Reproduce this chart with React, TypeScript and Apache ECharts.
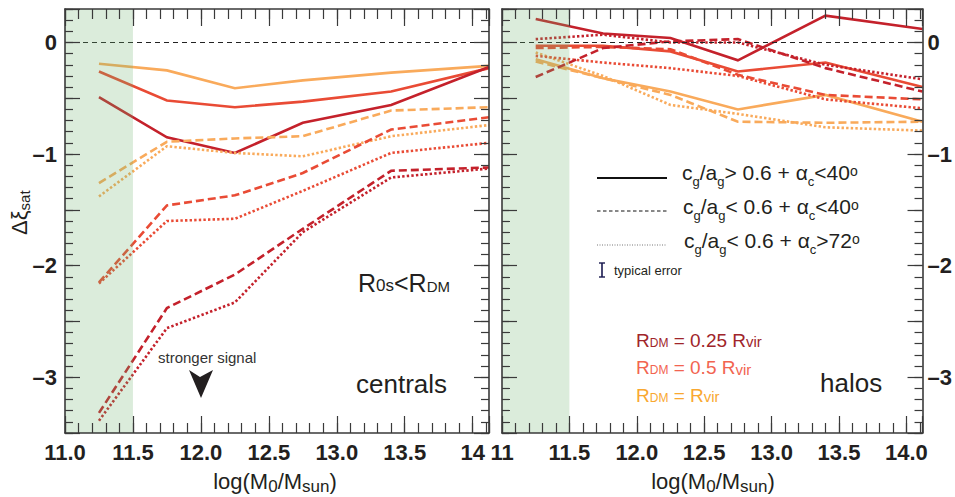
import React, { useEffect, useRef } from "react";
import * as echarts from "echarts";

// ---------- data ----------
const massBins = [11.25, 11.75, 12.25, 12.75, 13.4, 14.12];

// centrals panel (left)
const cen025Solid = [-0.49, -0.85, -0.99, -0.72, -0.56, -0.22];
const cen050Solid = [-0.26, -0.52, -0.58, -0.53, -0.44, -0.23];
const cen100Solid = [-0.19, -0.25, -0.41, -0.34, -0.27, -0.21];
const cen025Dashed = [-3.32, -2.38, -2.08, -1.67, -1.15, -1.12];
const cen025Dotted = [-3.39, -2.56, -2.33, -1.7, -1.21, -1.13];
const cen050Dashed = [-2.15, -1.46, -1.37, -1.17, -0.78, -0.67];
const cen050Dotted = [-2.16, -1.6, -1.58, -1.33, -0.99, -0.9];
const cen100Dashed = [-1.26, -0.89, -0.86, -0.84, -0.61, -0.58];
const cen100Dotted = [-1.38, -0.93, -0.99, -1.02, -0.84, -0.74];

// halos panel (right)
const halo025Solid = [0.21, 0.08, 0.04, -0.16, 0.24, 0.12];
const halo050Solid = [-0.03, -0.03, -0.08, -0.26, -0.18, -0.4];
const halo100Solid = [-0.15, -0.32, -0.44, -0.6, -0.47, -0.71];
const halo025Dashed = [-0.31, -0.05, 0.01, 0.03, -0.23, -0.44];
const halo025Dotted = [0.03, 0.07, 0.0, 0.0, -0.2, -0.33];
const halo050Dashed = [-0.05, -0.04, -0.06, -0.29, -0.47, -0.51];
const halo050Dotted = [-0.12, -0.18, -0.23, -0.3, -0.51, -0.59];
const halo100Dashed = [-0.17, -0.32, -0.47, -0.71, -0.72, -0.71];
const halo100Dotted = [-0.09, -0.3, -0.56, -0.64, -0.76, -0.79];

const shadeRange = [11.0, 11.5];
const xMin = 11;
const xMax = 14.12;
const yMin = -3.5;
const yMax = 0.3;

// ---------- styles ----------
const C025 = "#c4212b";
const C050 = "#e94b35";
const C100 = "#f9aa5b";
const AX = "#3a3a3a";
const INK = "#231f20";
const LABEL_FONT = "'Liberation Sans Narrow', 'Liberation Sans', Arial, sans-serif";
const TEXT_FONT = "'Liberation Sans', Arial, sans-serif";
const DASH = [8, 4];
const DOT = [2.4, 2.2];

const isMult = (v: number, step: number) => Math.abs(v / step - Math.round(v / step)) < 1e-6;

function fmtLeftX(v: number) {
  if (Math.abs(v - 14) < 1e-6) return "14";
  return isMult(v, 0.5) && v < 14.01 ? v.toFixed(1) : "";
}
function fmtRightX(v: number) {
  if (Math.abs(v - 11) < 1e-6) return "11";
  return isMult(v, 0.5) && v < 14.01 ? v.toFixed(1) : "";
}
function fmtY(v: number) {
  if (!isMult(v, 1)) return "";
  const r = Math.round(v);
  return r === 0 ? "0" : "\u2013" + Math.abs(r);
}

// ---------- text runs helper (baseline-aligned sub/superscripts) ----------
let measureCtx: CanvasRenderingContext2D | null = null;
function textWidth(t: string, fs: number) {
  if (!measureCtx) measureCtx = document.createElement("canvas").getContext("2d");
  measureCtx!.font = `normal normal ${fs}px ${TEXT_FONT}`;
  return measureCtx!.measureText(t).width;
}
type Run = [string, number, number]; // text, fontSize, baseline shift (px, + = down)
function runs(x0: number, baseline: number, items: Run[], color: string, align: "left" | "center" = "left") {
  const widths = items.map(([t, fs]) => textWidth(t, fs));
  const total = widths.reduce((a, b) => a + b, 0);
  let x = align === "center" ? x0 - total / 2 : x0;
  return items.map(([t, fs, dy], i) => {
    const el = {
      type: "text",
      x,
      y: baseline + dy - 0.3465 * fs,
      silent: true,
      style: { text: t, fontSize: fs, fontFamily: TEXT_FONT, fill: color, align: "left", verticalAlign: "middle" },
    };
    x += widths[i];
    return el;
  });
}

function xAxesFor(grid: number, fmt: (v: number) => string) {
  const base = { type: "value", gridIndex: grid, min: xMin, max: xMax, z: 20, splitLine: { show: false } };
  const line = { show: true, onZero: false, lineStyle: { color: AX, width: 1.6 } };
  const noLine = { show: false, onZero: false };
  const major = { inside: true, length: 17, lineStyle: { color: AX, width: 1.2 } };
  const minor = { inside: true, length: 10, lineStyle: { color: AX, width: 1.2 } };
  return [
    {
      ...base,
      position: "bottom",
      interval: 0.5,
      axisLine: line,
      axisTick: major,
      axisLabel: { show: true, margin: 8, fontSize: 22, fontWeight: "bold", fontFamily: LABEL_FONT, color: INK, formatter: fmt },
    },
    { ...base, position: "bottom", interval: 0.1, axisLine: noLine, axisTick: minor, axisLabel: { show: false } },
    { ...base, position: "top", interval: 0.5, axisLine: line, axisTick: major, axisLabel: { show: false } },
    { ...base, position: "top", interval: 0.1, axisLine: noLine, axisTick: minor, axisLabel: { show: false } },
  ];
}

function yAxesFor(grid: number, labelSide: "left" | "right") {
  const base = { type: "value", gridIndex: grid, min: yMin, max: yMax, z: 20, splitLine: { show: false } };
  const line = { show: true, onZero: false, lineStyle: { color: AX, width: 1.6 } };
  const noLine = { show: false, onZero: false };
  const major = { inside: true, length: 15, lineStyle: { color: AX, width: 1.2 } };
  const minor = { inside: true, length: 8, lineStyle: { color: AX, width: 1.2 } };
  const lbl = {
    show: true,
    margin: labelSide === "left" ? 8 : 5,
    fontSize: 22,
    fontWeight: "bold",
    fontFamily: LABEL_FONT,
    color: INK,
    formatter: fmtY,
  };
  return [
    { ...base, position: "left", interval: 0.5, axisLine: line, axisTick: major, axisLabel: labelSide === "left" ? lbl : { show: false } },
    { ...base, position: "left", interval: 0.1, axisLine: noLine, axisTick: minor, axisLabel: { show: false } },
    { ...base, position: "right", interval: 0.5, axisLine: line, axisTick: major, axisLabel: labelSide === "right" ? lbl : { show: false } },
    { ...base, position: "right", interval: 0.1, axisLine: noLine, axisTick: minor, axisLabel: { show: false } },
  ];
}

function mkLine(vals: number[], color: string, type: any, grid: number) {
  return {
    type: "line",
    xAxisIndex: grid * 4,
    yAxisIndex: grid * 4,
    data: massBins.map((x, i) => [x, vals[i]]),
    symbol: "none",
    silent: true,
    z: 3,
    lineStyle: { color, width: 2.6, type, cap: "butt", join: "miter" },
  };
}

function overlay(grid: number) {
  return {
    type: "line",
    xAxisIndex: grid * 4,
    yAxisIndex: grid * 4,
    data: [[shadeRange[0], 0]],
    symbol: "none",
    silent: true,
    lineStyle: { width: 0, opacity: 0 },
    markArea: {
      silent: true,
      z: 10,
      itemStyle: { color: "rgba(110,180,110,0.25)" },
      data: [[{ xAxis: shadeRange[0] }, { xAxis: shadeRange[1] }]],
    },
    markLine: {
      silent: true,
      symbol: "none",
      z: 4,
      label: { show: false },
      lineStyle: { type: [5, 4], color: "#222", width: 1 },
      data: [{ yAxis: 0 }],
    },
  };
}

function legendText(x: number, baseline: number, rel: string, ang: string): Run[] {
  return [
    ["c", 21, 0],
    ["g", 13, 6.5],
    ["/a", 21, 0],
    ["g", 13, 6.5],
    [rel + " 0.6 + \u03b1", 21, 0],
    ["c", 13, 6.5],
    [ang, 21, 0],
    ["o", 14, -4.5],
  ];
}

export default function App() {
  const ref = useRef<HTMLDivElement>(null);
  useEffect(() => {
    if (!ref.current) return;
    const chart = echarts.init(ref.current, null, { renderer: "svg" });

    const rdm = (baseline: number, mid: string, color: string) =>
      runs(636, baseline, [
        ["R", 19, 0],
        ["DM", 12, 0],
        [mid, 19, 0],
        ["vir", 15, 0],
      ], color);

    const graphic: any[] = [
      // y-axis title (rotated)
      {
        type: "group",
        x: 27,
        y: 235,
        rotation: Math.PI / 2,
        children: runs(0, 0, [
          ["\u0394\u03be", 22, 0],
          ["sat", 15, 3],
        ], INK),
      },
      // x-axis titles
      ...runs(275, 489, [
        ["log(M", 22, 0],
        ["0", 17, 3],
        ["/M", 22, 0],
        ["sun", 17, 3],
        [")", 22, 0],
      ], INK, "center"),
      ...runs(713, 489, [
        ["log(M", 22, 0],
        ["0", 17, 3],
        ["/M", 22, 0],
        ["sun", 17, 3],
        [")", 22, 0],
      ], INK, "center"),
      // left panel annotations
      ...runs(358, 291.5, [
        ["R", 25, 0],
        ["0s", 17, 0],
        ["<R", 25, 0],
        ["DM", 15, 0],
      ], INK),
      ...runs(356, 393, [["centrals", 26, 0]], INK),
      ...runs(158, 362.5, [["stronger signal", 15, 0]], "#333"),
      {
        type: "polygon",
        silent: true,
        shape: { points: [[189, 370], [200, 377], [213, 370], [201, 398]] },
        style: { fill: INK },
      },
      // right panel annotations
      ...runs(820, 392.5, [["halos", 26, 0]], INK),
      // legend samples
      { type: "line", silent: true, shape: { x1: 597, y1: 178, x2: 667, y2: 178 }, style: { stroke: "#111", lineWidth: 2 } },
      { type: "line", silent: true, shape: { x1: 597, y1: 211, x2: 667, y2: 211 }, style: { stroke: "#111", lineWidth: 1, lineDash: [3.5, 2.5] } },
      { type: "line", silent: true, shape: { x1: 597, y1: 245, x2: 667, y2: 245 }, style: { stroke: "#777", lineWidth: 1, lineDash: [1, 1.5] } },
      ...runs(682, 180, legendText(682, 180, ">", "<40"), INK),
      ...runs(683, 214, legendText(683, 214, "<", "<40"), INK),
      ...runs(684, 248, legendText(684, 248, "<", ">72"), INK),
      // typical error
      { type: "line", silent: true, shape: { x1: 602, y1: 263, x2: 602, y2: 277 }, style: { stroke: "#1a1a50", lineWidth: 1.6 } },
      { type: "line", silent: true, shape: { x1: 599, y1: 263, x2: 605, y2: 263 }, style: { stroke: "#1a1a50", lineWidth: 1.4 } },
      { type: "line", silent: true, shape: { x1: 599, y1: 277, x2: 605, y2: 277 }, style: { stroke: "#1a1a50", lineWidth: 1.4 } },
      ...runs(614, 275, [["typical error", 13, 0]], INK),
      // R_DM colour key
      ...rdm(347, " = 0.25 R", "#a0252a"),
      ...rdm(374.5, " = 0.5 R", "#f26450"),
      ...rdm(402, " = R", "#f9a830"),
    ];

    const option: any = {
      animation: false,
      backgroundColor: "#ffffff",
      grid: [
        { left: 65, top: 9, width: 424, height: 424 },
        { left: 502, top: 9, width: 423, height: 424 },
      ],
      xAxis: [...xAxesFor(0, fmtLeftX), ...xAxesFor(1, fmtRightX)],
      yAxis: [...yAxesFor(0, "left"), ...yAxesFor(1, "right")],
      series: [
        overlay(0),
        overlay(1),
        mkLine(cen100Solid, C100, "solid", 0),
        mkLine(cen050Solid, C050, "solid", 0),
        mkLine(cen025Solid, C025, "solid", 0),
        mkLine(cen100Dashed, C100, DASH, 0),
        mkLine(cen100Dotted, C100, DOT, 0),
        mkLine(cen050Dashed, C050, DASH, 0),
        mkLine(cen050Dotted, C050, DOT, 0),
        mkLine(cen025Dashed, C025, DASH, 0),
        mkLine(cen025Dotted, C025, DOT, 0),
        mkLine(halo100Solid, C100, "solid", 1),
        mkLine(halo050Solid, C050, "solid", 1),
        mkLine(halo025Solid, C025, "solid", 1),
        mkLine(halo100Dashed, C100, DASH, 1),
        mkLine(halo100Dotted, C100, DOT, 1),
        mkLine(halo050Dashed, C050, DASH, 1),
        mkLine(halo050Dotted, C050, DOT, 1),
        mkLine(halo025Dashed, C025, DASH, 1),
        mkLine(halo025Dotted, C025, DOT, 1),
      ],
      graphic,
    };
    chart.setOption(option);
    return () => chart.dispose();
  }, []);
  return <div ref={ref} style={{ position: "absolute", left: 0, top: 0, width: 955, height: 497 }} />;
}
